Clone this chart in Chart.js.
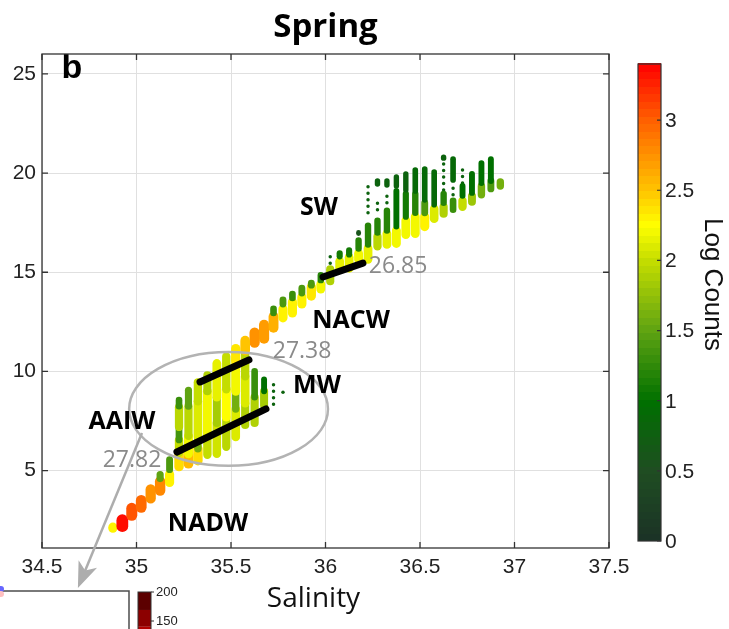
<!DOCTYPE html>
<html>
<head>
<meta charset="utf-8">
<script src="https://cdn.jsdelivr.net/npm/chart.js@4.4.1/dist/chart.umd.min.js"></script>
<style>
  html, body { margin: 0; padding: 0; background: #fff; }
  #wrap { position: relative; width: 729px; height: 629px; overflow: hidden; }
</style>
</head>
<body>
<div id="wrap"><canvas id="ts-spring" width="729" height="629"></canvas></div>
<script>
// axis ticks
const salinityTicks = [34.5, 35, 35.5, 36, 36.5, 37, 37.5];
const tempTicks = [5, 10, 15, 20, 25];
const logCountTicks = [0, 0.5, 1, 1.5, 2, 2.5, 3];

// binned T-S counts, one row per run of bins: [salinity, T low, T high, log10 count]
const nadwCols = [
    [34.875, 2.10, 2.15, 2.3],
    [34.925, 2.20, 2.50, 3.35],
    [34.975, 2.75, 3.10, 3.05],
    [35.025, 3.15, 3.50, 2.95],
    [35.075, 3.60, 4.05, 2.75],
    [35.125, 4.00, 4.45, 2.8],
    [35.125, 4.60, 4.80, 1.5],
    [35.175, 4.40, 4.80, 2.3],
    [35.175, 5.05, 5.55, 1.4]
];
const intermediateCols = [
    [35.225, 5.20, 5.90, 2.4], [35.225, 5.90, 6.55, 2.0], [35.225, 6.55, 7.20, 1.35],
    [35.225, 7.20, 8.20, 1.95], [35.225, 8.25, 8.55, 1.3],
    [35.275, 5.35, 5.85, 2.55], [35.275, 5.85, 6.75, 2.2], [35.275, 6.75, 8.25, 1.95],
    [35.275, 8.25, 9.05, 1.5],
    [35.325, 5.50, 6.10, 2.4], [35.325, 6.10, 6.70, 1.6], [35.325, 6.70, 8.50, 2.1],
    [35.325, 8.50, 9.45, 2.0],
    [35.375, 5.80, 6.90, 2.0], [35.375, 6.90, 9.00, 2.2], [35.375, 9.00, 9.80, 1.9],
    [35.425, 5.85, 7.40, 2.05], [35.425, 7.40, 8.70, 1.85], [35.425, 8.70, 10.40, 2.15],
    [35.475, 6.20, 7.70, 1.95], [35.475, 7.70, 9.10, 2.25], [35.475, 9.10, 10.75, 2.0],
    [35.525, 6.70, 8.10, 2.1], [35.525, 8.10, 9.00, 1.6], [35.525, 9.00, 10.55, 2.2],
    [35.525, 10.55, 11.15, 2.35],
    [35.575, 7.30, 8.40, 1.9], [35.575, 8.40, 9.75, 2.1], [35.575, 9.75, 10.95, 1.95],
    [35.575, 11.05, 11.55, 2.5],
    [35.625, 7.40, 8.70, 1.9], [35.625, 8.70, 10.00, 1.3],
    [35.675, 8.30, 9.00, 1.85], [35.675, 9.00, 9.60, 1.0]
];
const nacwCols = [
    [35.625, 11.45, 11.95, 2.75],
    [35.675, 11.65, 12.35, 2.7],
    [35.725, 12.20, 12.75, 2.6], [35.725, 12.95, 13.15, 1.3],
    [35.775, 12.70, 13.15, 2.3], [35.775, 13.40, 13.60, 1.4],
    [35.825, 12.95, 13.50, 2.3], [35.825, 13.70, 13.90, 1.3],
    [35.875, 13.40, 13.75, 2.3], [35.875, 13.95, 14.20, 1.4],
    [35.925, 13.80, 14.25, 2.35], [35.925, 14.35, 14.45, 1.4],
    [35.975, 14.15, 14.40, 2.2], [35.975, 14.60, 14.85, 1.2]
];
const swCols = [
    [36.025, 14.55, 15.15, 1.9],
    [36.075, 15.15, 15.55, 2.15], [36.075, 15.80, 15.95, 1.1],
    [36.125, 15.20, 15.75, 2.15], [36.125, 15.90, 16.10, 1.1],
    [36.175, 15.65, 15.95, 2.2], [36.175, 16.20, 16.60, 1.2], [36.175, 16.95, 17.00, 0.6],
    [36.225, 15.65, 16.20, 2.15], [36.225, 16.40, 17.35, 1.2],
    [36.275, 16.30, 16.80, 1.95], [36.275, 17.00, 17.60, 1.2], [36.275, 19.45, 19.60, 0.8],
    [36.325, 16.40, 16.95, 2.15], [36.325, 17.10, 18.10, 1.2], [36.325, 19.40, 19.60, 0.8],
    [36.375, 16.45, 17.10, 2.2], [36.375, 17.30, 19.10, 1.0], [36.375, 19.35, 19.80, 0.8],
    [36.425, 16.90, 17.60, 2.2], [36.425, 17.80, 18.95, 1.1], [36.425, 19.15, 19.95, 0.8],
    [36.475, 16.95, 17.80, 2.2], [36.475, 18.00, 18.95, 1.2], [36.475, 19.10, 20.15, 0.9],
    [36.525, 17.30, 17.80, 2.3], [36.525, 18.00, 18.50, 1.4], [36.525, 18.65, 20.20, 0.9],
    [36.575, 17.70, 18.20, 2.1], [36.575, 18.40, 20.05, 0.9],
    [36.625, 17.95, 18.30, 1.9], [36.625, 18.50, 18.95, 1.2], [36.625, 20.75, 20.80, 0.8],
    [36.675, 18.15, 18.60, 1.3], [36.675, 19.65, 20.70, 0.9],
    [36.725, 18.30, 18.60, 2.0], [36.725, 18.85, 19.35, 1.0],
    [36.775, 18.55, 18.85, 1.8], [36.775, 19.00, 19.95, 1.0],
    [36.825, 18.90, 19.35, 1.6], [36.825, 19.50, 20.50, 1.0],
    [36.875, 19.20, 19.60, 1.4], [36.875, 19.60, 20.70, 1.0],
    [36.925, 19.35, 19.55, 1.6]
];
// bins holding only a few profiles: [salinity, T low, T high]
const sparseCols = [
    [35.725, 8.35, 9.35], [35.775, 8.95, 9.20],
    [36.025, 15.45, 16.10], [36.225, 18.00, 19.55], [36.275, 18.15, 18.80],
    [36.325, 18.50, 19.05], [36.625, 19.15, 20.60], [36.675, 18.90, 19.50],
    [36.725, 19.50, 20.40]
];
const sparseLogCount = 0.8;

// isopycnal segments bounding each water mass: [S1, T1, S2, T2]
const isopycnals = [
    [35.214, 5.94, 35.685, 8.11],
    [35.336, 9.47, 35.595, 10.58],
    [35.987, 14.76, 36.198, 15.46]
];
const sigmaLabels = ['26.85', '27.38', '27.82'];
const sigmaS = [36.384, 35.876, 34.976];
const sigmaT = [15.31, 11.03, 5.49];

const waterMasses = ['SW', 'NACW', 'MW', 'AAIW', 'NADW'];
const waterMassS = [35.966, 36.135, 35.955, 34.923, 35.378];
const waterMassT = [18.24, 12.54, 9.27, 7.45, 2.31];

// MW / AAIW envelope and the arrow to the zoomed panel
const mwEnvelope = [35.487, 8.11, 0.526, 2.87];   // centre S, centre T, half-width S, half-height T
const zoomArrow = [35.029, 6.90, 34.690, -0.92];

// colour scale for log counts
const cmapStops = [0, 0.5, 1, 1.5, 2, 2.25, 2.5, 3, 3.4];
const cmapColors = ['#1b3226', '#1f4d22', '#007000', '#5fa312', '#c4dd00', '#ffff00', '#ffc400', '#ff6000', '#ff0000'];
const logCountMax = 3.4;

// zoomed panel colour bar (counts)
const insetTicks = [200, 150];
const insetBands = [200, 169, 140, 110];
const insetBandColors = ['#5c0000', '#8c0000', '#b40000'];

function hexRgb(h) {
    return [parseInt(h.slice(1, 3), 16), parseInt(h.slice(3, 5), 16), parseInt(h.slice(5, 7), 16)];
}

function logColor(v) {
    v = Math.max(0, Math.min(logCountMax, v));
    let i = 0;
    while (i < cmapStops.length - 2 && v > cmapStops[i + 1]) i++;
    const f = (v - cmapStops[i]) / (cmapStops[i + 1] - cmapStops[i]);
    const a = hexRgb(cmapColors[i]), b = hexRgb(cmapColors[i + 1]);
    const c = a.map((x, k) => Math.round(x + (b[k] - x) * f));
    return `rgb(${c[0]},${c[1]},${c[2]})`;
}

function binDataset(row) {
    const [s, lo, hi, lc] = row;
    return {
        data: [{ x: s, y: lo }, { x: s, y: hi }],
        showLine: true,
        borderColor: logColor(lc),
        borderWidth: 3.4 + 2.5 * lc,
        borderCapStyle: 'round',
        pointRadius: 0
    };
}

// built bottom layer first; Chart.js paints index 0 last, so the list is flipped afterwards
const datasets = [];
sparseCols.forEach(r => {
    datasets.push({
        data: [{ x: r[0], y: r[1] }, { x: r[0], y: r[2] }],
        showLine: true,
        borderColor: logColor(sparseLogCount),
        borderWidth: 3.5,
        borderDash: [0, 6.5],
        borderCapStyle: 'round',
        pointRadius: 0
    });
});
[swCols, nacwCols, intermediateCols, nadwCols].forEach(group => {
    group.forEach(r => datasets.push(binDataset(r)));
});
isopycnals.forEach(r => {
    datasets.push({
        data: [{ x: r[0], y: r[1] }, { x: r[2], y: r[3] }],
        showLine: true,
        borderColor: '#000',
        borderWidth: 7,
        borderCapStyle: 'round',
        pointRadius: 0
    });
});
datasets.reverse();

const tsOverlay = {
    id: 'tsOverlay',
    afterDatasetsDraw(chart) {
        const { ctx, chartArea: a, scales: { x, y } } = chart;
        ctx.save();
        ctx.beginPath();
        ctx.rect(a.left, a.top, a.right - a.left, a.bottom - a.top);
        ctx.clip();

        // envelope around MW / AAIW
        const cx = x.getPixelForValue(mwEnvelope[0]);
        const cy = y.getPixelForValue(mwEnvelope[1]);
        const rx = x.getPixelForValue(mwEnvelope[0] + mwEnvelope[2]) - cx;
        const ry = cy - y.getPixelForValue(mwEnvelope[1] + mwEnvelope[3]);
        ctx.strokeStyle = '#b3b3b3';
        ctx.lineWidth = 2.5;
        ctx.beginPath();
        ctx.ellipse(cx, cy, rx, ry, 0, 0, Math.PI * 2);
        ctx.stroke();

        ctx.textAlign = 'center';
        ctx.textBaseline = 'middle';
        ctx.fillStyle = '#8a8a8a';
        ctx.font = '23px "Open Sans"';
        sigmaLabels.forEach((t, i) => {
            ctx.fillText(t, x.getPixelForValue(sigmaS[i]), y.getPixelForValue(sigmaT[i]));
        });
        ctx.fillStyle = '#000';
        ctx.font = 'bold 25px "Open Sans"';
        waterMasses.forEach((t, i) => {
            ctx.fillText(t, x.getPixelForValue(waterMassS[i]), y.getPixelForValue(waterMassT[i]));
        });
        ctx.font = 'bold 34px "Liberation Sans"';
        ctx.fillText('b', a.left + 30, a.top + 15);
        ctx.restore();
    },
    afterDraw(chart) {
        const { ctx, chartArea: a, scales: { x, y } } = chart;
        ctx.save();

        // axes box with inward ticks
        ctx.strokeStyle = '#333';
        ctx.lineWidth = 1.3;
        ctx.strokeRect(a.left, a.top, a.right - a.left, a.bottom - a.top);
        ctx.beginPath();
        salinityTicks.forEach(v => {
            const px = x.getPixelForValue(v);
            ctx.moveTo(px, a.bottom); ctx.lineTo(px, a.bottom - 6);
            ctx.moveTo(px, a.top); ctx.lineTo(px, a.top + 6);
        });
        tempTicks.forEach(v => {
            const py = y.getPixelForValue(v);
            ctx.moveTo(a.left, py); ctx.lineTo(a.left + 6, py);
            ctx.moveTo(a.right, py); ctx.lineTo(a.right - 6, py);
        });
        ctx.stroke();

        // arrow to the zoomed panel
        const x0 = x.getPixelForValue(zoomArrow[0]), y0 = y.getPixelForValue(zoomArrow[1]);
        const x1 = x.getPixelForValue(zoomArrow[2]), y1 = y.getPixelForValue(zoomArrow[3]);
        const len = Math.hypot(x1 - x0, y1 - y0);
        const ux = (x1 - x0) / len, uy = (y1 - y0) / len;
        const nx = -uy, ny = ux;
        ctx.strokeStyle = '#adadad';
        ctx.fillStyle = '#adadad';
        ctx.lineWidth = 2.5;
        ctx.beginPath();
        ctx.moveTo(x0, y0);
        ctx.lineTo(x1 - ux * 18, y1 - uy * 18);
        ctx.stroke();
        ctx.beginPath();
        ctx.moveTo(x1, y1);
        ctx.lineTo(x1 - ux * 26 + nx * 10, y1 - uy * 26 + ny * 10);
        ctx.lineTo(x1 - ux * 19, y1 - uy * 19);
        ctx.lineTo(x1 - ux * 26 - nx * 10, y1 - uy * 26 - ny * 10);
        ctx.closePath();
        ctx.fill();

        // log-count colour bar
        const cbL = a.right + 29, cbR = a.right + 52;
        const cbTop = a.top + 10, cbBot = a.bottom - 7;
        const perUnit = (cbBot - cbTop) / logCountMax;
        const nBands = 64;
        for (let i = 0; i < nBands; i++) {
            const v0 = logCountMax * i / nBands, v1 = logCountMax * (i + 1) / nBands;
            ctx.fillStyle = logColor((v0 + v1) / 2);
            const yTop = cbBot - v1 * perUnit;
            ctx.fillRect(cbL, Math.floor(yTop), cbR - cbL, Math.ceil(cbBot - v0 * perUnit) - Math.floor(yTop));
        }
        ctx.strokeStyle = '#333';
        ctx.lineWidth = 1.2;
        ctx.strokeRect(cbL, cbTop, cbR - cbL, cbBot - cbTop);
        ctx.fillStyle = '#222';
        ctx.font = '21px "Liberation Sans"';
        ctx.textAlign = 'left';
        ctx.textBaseline = 'middle';
        ctx.beginPath();
        logCountTicks.forEach(v => {
            const py = cbBot - v * perUnit;
            ctx.moveTo(cbR, py); ctx.lineTo(cbR - 4, py);
            ctx.fillText(String(v), cbR + 4, py + 1);
        });
        ctx.stroke();

        ctx.save();
        ctx.translate(cbR + 51, (cbTop + cbBot) / 2 - 18);
        ctx.rotate(Math.PI / 2);
        ctx.textAlign = 'center';
        ctx.font = '26px "Liberation Sans"';
        ctx.fillStyle = '#111';
        ctx.fillText('Log Counts', 0, 0);
        ctx.restore();

        // x axis title
        ctx.textAlign = 'center';
        ctx.textBaseline = 'middle';
        ctx.font = '28px "Open Sans"';
        ctx.fillStyle = '#111';
        ctx.fillText('Salinity', (a.left + a.right) / 2 - 12, a.bottom + 51);

        // edge of the zoomed panel below
        const pTop = a.bottom + 43;
        ctx.strokeStyle = '#4d4d4d';
        ctx.lineWidth = 1.5;
        ctx.beginPath();
        ctx.moveTo(0, pTop);
        ctx.lineTo(129, pTop);
        ctx.lineTo(129, chart.height + 2);
        ctx.stroke();
        ctx.fillStyle = '#6666ff';
        ctx.beginPath(); ctx.arc(1, pTop - 2, 3, 0, Math.PI * 2); ctx.fill();
        ctx.fillStyle = '#ffc0c0';
        ctx.beginPath(); ctx.arc(1, pTop + 3, 3, 0, Math.PI * 2); ctx.fill();

        // its colour bar
        const iL = 138, iR = 151, iTop = pTop + 1, iPer = 29 / 50;
        insetBandColors.forEach((c, i) => {
            const yA = iTop + (insetBands[0] - insetBands[i]) * iPer;
            const yB = iTop + (insetBands[0] - insetBands[i + 1]) * iPer;
            ctx.fillStyle = c;
            ctx.fillRect(iL, yA, iR - iL, yB - yA);
        });
        ctx.strokeStyle = '#333';
        ctx.lineWidth = 1;
        ctx.strokeRect(iL, iTop, iR - iL, chart.height);
        ctx.fillStyle = '#222';
        ctx.font = '13px "Liberation Sans"';
        ctx.textAlign = 'left';
        insetTicks.forEach(v => {
            const py = iTop + (insetBands[0] - v) * iPer;
            ctx.beginPath(); ctx.moveTo(iR, py); ctx.lineTo(iR + 3, py); ctx.stroke();
            ctx.fillText(String(v), iR + 5, py);
        });

        ctx.restore();
    }
};

new Chart(document.getElementById('ts-spring'), {
    type: 'scatter',
    data: { datasets },
    options: {
        responsive: false,
        animation: false,
        devicePixelRatio: 1,
        layout: { padding: { left: 0, right: 120, top: 0, bottom: 0 } },
        plugins: {
            legend: { display: false },
            tooltip: { enabled: false },
            title: {
                display: true,
                text: 'Spring',
                fullSize: false,
                color: '#000',
                font: { family: 'Open Sans', size: 33, weight: 'bold', lineHeight: 1.2 },
                padding: { top: 8, bottom: 6.4 }
            }
        },
        scales: {
            x: {
                type: 'linear',
                min: 34.5,
                max: 37.5,
                afterFit: s => { s.height = 81; },
                afterBuildTicks: s => { s.ticks = salinityTicks.map(v => ({ value: v })); },
                grid: { color: '#e0e0e0', drawTicks: false },
                border: { display: false },
                ticks: {
                    color: '#222',
                    padding: 7,
                    font: { family: 'Liberation Sans', size: 21 },
                    callback: v => String(v)
                }
            },
            y: {
                type: 'linear',
                min: 1.1,
                max: 26,
                afterFit: s => { s.width = 42; },
                afterBuildTicks: s => { s.ticks = tempTicks.map(v => ({ value: v })); },
                grid: { color: '#e0e0e0', drawTicks: false },
                border: { display: false },
                ticks: {
                    color: '#222',
                    padding: 6,
                    font: { family: 'Liberation Sans', size: 21 },
                    callback: v => String(v)
                }
            }
        }
    },
    plugins: [tsOverlay]
});
</script>
</body>
</html>
